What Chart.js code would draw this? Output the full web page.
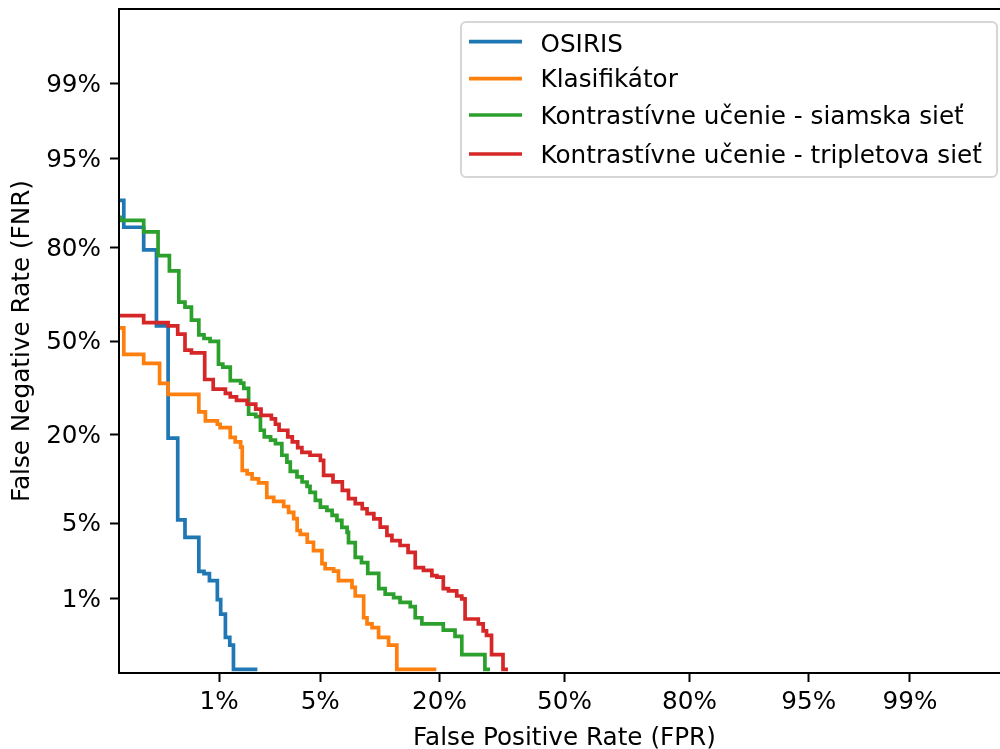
<!DOCTYPE html>
<html>
<head>
<meta charset="utf-8">
<script src="https://cdn.jsdelivr.net/npm/chart.js@4.4.1/dist/chart.umd.min.js"></script>
<style>
  html, body { margin: 0; padding: 0; background: #fff; overflow: hidden; width: 1000px; height: 749px; }
  #wrap { width: 1000px; height: 749px; overflow: hidden; position: relative; }
  canvas { display: block; }
</style>
</head>
<body>
<!-- plocha grafu siaha az za pravy okraj okna (ako v povodnom obrazku) -->
<div id="wrap"><canvas id="detChart" width="1010" height="749"></canvas></div>
<script>
// DET krivky - FPR a FNR v percentach, odcitane z grafu
const tickRates = [1, 5, 20, 50, 80, 95, 99];
const tickLabels = ['1%', '5%', '20%', '50%', '80%', '95%', '99%'];
const seriesNames = ['OSIRIS', 'Klasifikátor', 'Kontrastívne učenie - siamska sieť', 'Kontrastívne učenie - tripletova sieť'];
const seriesColors = ['#1f77b4', '#ff7f0e', '#2ca02c', '#d62728'];

const osirisFpr = [0.12, 0.15, 0.23, 0.30, 0.38, 0.46, 0.53, 0.69, 0.76, 0.84, 0.97, 1.03, 1.12, 1.21, 1.29, 1.93];
const osirisFnr = [89.8, 84.8, 79.5, 55.4, 19.0, 5.3, 3.8, 1.87, 1.78, 1.52, 0.97, 0.68, 0.37, 0.30, 0.15, 0.15];

const klasFpr = [0.13, 0.15, 0.23, 0.32, 0.38, 0.69, 0.78, 0.97, 1.02, 1.22, 1.33, 1.46, 1.50, 1.63, 1.77, 1.97, 2.25, 2.51, 2.93, 3.16,
  3.41, 3.59, 3.76, 4.16, 4.55, 5.12, 5.35, 6.00, 6.40, 7.62, 7.94, 8.81, 9.18, 9.75, 10.53, 11.81, 12.94, 19.40];
const klasFnr = [54.7, 45.2, 42.0, 35.1, 31.5, 26.1, 23.5, 22.6, 21.7, 19.2, 18.1, 16.9, 12.1, 11.5, 10.65, 9.99, 7.88, 7.37, 6.74, 6.08,
  5.43, 4.34, 4.03, 3.45, 2.91, 2.21, 1.98, 1.88, 1.52, 1.30, 1.06, 0.62, 0.53, 0.48, 0.37, 0.30, 0.15, 0.15];

const siamFpr = [0.13, 0.14, 0.23, 0.31, 0.39, 0.47, 0.53, 0.60, 0.69, 0.76, 0.85, 0.99, 1.07, 1.22, 1.46, 1.54, 1.67, 1.88, 2.03, 2.16,
  2.39, 2.58, 2.85, 3.08, 3.24, 3.58, 3.86, 4.15, 4.33, 4.67, 5.01, 5.48, 5.88, 6.27, 6.69, 7.16, 7.29, 7.94, 8.58, 9.26,
  10.55, 11.36, 12.49, 13.41, 14.95, 15.74, 16.84, 20.72, 23.05, 24.46, 29.6, 30.8];
const siamFnr = [86.8, 86.2, 83.8, 78.0, 73.7, 63.7, 62.0, 57.5, 52.2, 50.9, 49.9, 41.7, 40.7, 36.0, 35.2, 33.4, 25.4, 24.7, 21.0, 19.3,
  18.5, 17.7, 15.1, 13.7, 11.95, 10.96, 10.13, 9.45, 8.58, 7.50, 6.66, 6.30, 5.75, 5.25, 4.60, 4.19, 3.43, 2.53, 2.26, 1.79,
  1.26, 1.11, 1.02, 0.91, 0.82, 0.62, 0.53, 0.45, 0.38, 0.23, 0.15, 0.15];

const tripFpr = [0.13, 0.23, 0.38, 0.46, 0.53, 0.60, 0.77, 0.90, 1.12, 1.22, 1.36, 1.63, 1.88, 2.05, 2.42, 2.58, 2.73, 3.12, 3.34, 3.62,
  3.85, 4.33, 5.01, 5.24, 5.95, 6.73, 7.29, 7.94, 8.66, 9.18, 9.96, 10.73, 11.59, 12.26, 13.41, 14.61, 15.74, 17.11, 18.59, 19.51,
  20.72, 21.73, 23.40, 24.46, 25.16, 28.08, 29.20, 29.97, 31.16, 33.94, 35.17];
const tripFnr = [59.1, 56.6, 55.4, 52.5, 46.7, 45.7, 36.4, 33.2, 31.8, 30.7, 29.6, 28.4, 26.9, 25.1, 24.1, 22.6, 21.0, 19.3, 18.1, 16.75,
  15.7, 15.1, 14.05, 11.24, 10.16, 8.86, 7.72, 7.08, 6.48, 5.94, 5.40, 4.63, 3.95, 3.56, 3.23, 2.81, 2.03, 1.91, 1.70, 1.64,
  1.26, 1.20, 1.06, 0.99, 0.60, 0.53, 0.44, 0.39, 0.23, 0.15, 0.15];

// inverzna distribucna funkcia normalneho rozdelenia (Acklam)
function probit(p) {
  const a = [-3.969683028665376e+01, 2.209460984245205e+02, -2.759285104469687e+02, 1.383577518672690e+02, -3.066479806614716e+01, 2.506628277459239e+00];
  const b = [-5.447609879822406e+01, 1.615858368580409e+02, -1.556989798598866e+02, 6.680131188771972e+01, -1.328068155288572e+01];
  const c = [-7.784894002430293e-03, -3.223964580411365e-01, -2.400758277161838e+00, -2.549732539343734e+00, 4.374664141464968e+00, 2.938163982698783e+00];
  const d = [7.784695709041462e-03, 3.224671290700398e-01, 2.445134137142996e+00, 3.754408661907416e+00];
  const pLow = 0.02425;
  let q, r;
  if (p < pLow) {
    q = Math.sqrt(-2 * Math.log(p));
    return (((((c[0] * q + c[1]) * q + c[2]) * q + c[3]) * q + c[4]) * q + c[5]) / ((((d[0] * q + d[1]) * q + d[2]) * q + d[3]) * q + 1);
  }
  if (p <= 1 - pLow) {
    q = p - 0.5;
    r = q * q;
    return (((((a[0] * r + a[1]) * r + a[2]) * r + a[3]) * r + a[4]) * r + a[5]) * q / (((((b[0] * r + b[1]) * r + b[2]) * r + b[3]) * r + b[4]) * r + 1);
  }
  q = Math.sqrt(-2 * Math.log(1 - p));
  return -(((((c[0] * q + c[1]) * q + c[2]) * q + c[3]) * q + c[4]) * q + c[5]) / ((((d[0] * q + d[1]) * q + d[2]) * q + d[3]) * q + 1);
}

const toPoints = (fpr, fnr) => fpr.map((v, i) => ({ x: probit(v / 100), y: probit(fnr[i] / 100) }));
const allSeries = [
  toPoints(osirisFpr, osirisFnr),
  toPoints(klasFpr, klasFnr),
  toPoints(siamFpr, siamFnr),
  toPoints(tripFpr, tripFnr)
];

const FONT = 24.7;
Chart.defaults.font.family = '"DejaVu Sans", sans-serif';
Chart.defaults.font.size = FONT;
Chart.defaults.color = '#000';

// ramik okolo plochy grafu, prava strana lezi mimo okna
const frame = {
  id: 'frame',
  afterDraw(chart) {
    const { ctx, chartArea: a } = chart;
    ctx.save();
    ctx.strokeStyle = '#000';
    ctx.lineWidth = 2;
    ctx.strokeRect(a.left, a.top, a.right - a.left, a.bottom - a.top);
    ctx.restore();
  }
};

// legenda v style matplotlibu
const detLegend = {
  id: 'detLegend',
  afterDraw(chart) {
    const ctx = chart.ctx;
    const lineY = [41.7, 78.7, 115, 154];
    const textY = [51.7, 87.3, 124, 163.3];
    ctx.save();
    ctx.beginPath();
    ctx.roundRect(461, 22, 536, 155, 5);
    ctx.fillStyle = 'rgba(255,255,255,0.8)';
    ctx.fill();
    ctx.lineWidth = 2;
    ctx.strokeStyle = '#d6d6d6';
    ctx.stroke();
    ctx.font = FONT + 'px "DejaVu Sans"';
    ctx.textBaseline = 'alphabetic';
    ctx.textAlign = 'left';
    seriesNames.forEach((name, i) => {
      ctx.beginPath();
      ctx.moveTo(469, lineY[i]);
      ctx.lineTo(522, lineY[i]);
      ctx.lineWidth = 3.7;
      ctx.strokeStyle = seriesColors[i];
      ctx.stroke();
      ctx.fillStyle = '#000';
      ctx.fillText(name, 540.5, textY[i]);
    });
    ctx.restore();
  }
};

const probitTicks = scale => {
  scale.ticks = tickRates.map(r => ({ value: probit(r / 100) }));
};

const gridOpts = {
  drawOnChartArea: false,
  drawTicks: true,
  tickLength: 9,
  tickWidth: 2,
  tickColor: '#000'
};

new Chart(document.getElementById('detChart'), {
  type: 'line',
  data: {
    datasets: allSeries.map((pts, i) => ({
      label: seriesNames[i],
      data: pts,
      borderColor: seriesColors[i],
      backgroundColor: seriesColors[i],
      borderWidth: 3.7,
      stepped: 'before',
      pointRadius: 0,
      fill: false,
      clip: 0,
      order: 3 - i
    }))
  },
  options: {
    responsive: false,
    animation: false,
    devicePixelRatio: 1,
    layout: { padding: { top: 9, right: 0, bottom: 0, left: 0 } },
    plugins: {
      legend: { display: false },
      tooltip: { enabled: false }
    },
    scales: {
      x: {
        type: 'linear',
        min: -3,
        max: 3,
        afterBuildTicks: probitTicks,
        afterFit: s => { s.height = 76; s.paddingLeft = 0; s.paddingRight = 0; },
        ticks: { autoSkip: false, maxRotation: 0, padding: 6, callback: (v, i) => tickLabels[i] },
        grid: gridOpts,
        border: { display: false },
        title: {
          display: true,
          text: 'False Positive Rate (FPR)',
          font: { size: FONT, lineHeight: 0.8 },
          padding: { top: 1, bottom: 1 }
        }
      },
      y: {
        type: 'linear',
        min: -3,
        max: 3,
        afterBuildTicks: probitTicks,
        afterFit: s => { s.width = 119; s.paddingTop = 0; s.paddingBottom = 0; },
        ticks: { autoSkip: false, padding: 9, labelOffset: 2, callback: (v, i) => tickLabels[i] },
        grid: gridOpts,
        border: { display: false },
        title: {
          display: true,
          text: 'False Negative Rate (FNR)',
          font: { size: FONT, lineHeight: 1 },
          padding: { top: 10, bottom: 10 }
        }
      }
    }
  },
  plugins: [frame, detLegend]
});
</script>
</body>
</html>
